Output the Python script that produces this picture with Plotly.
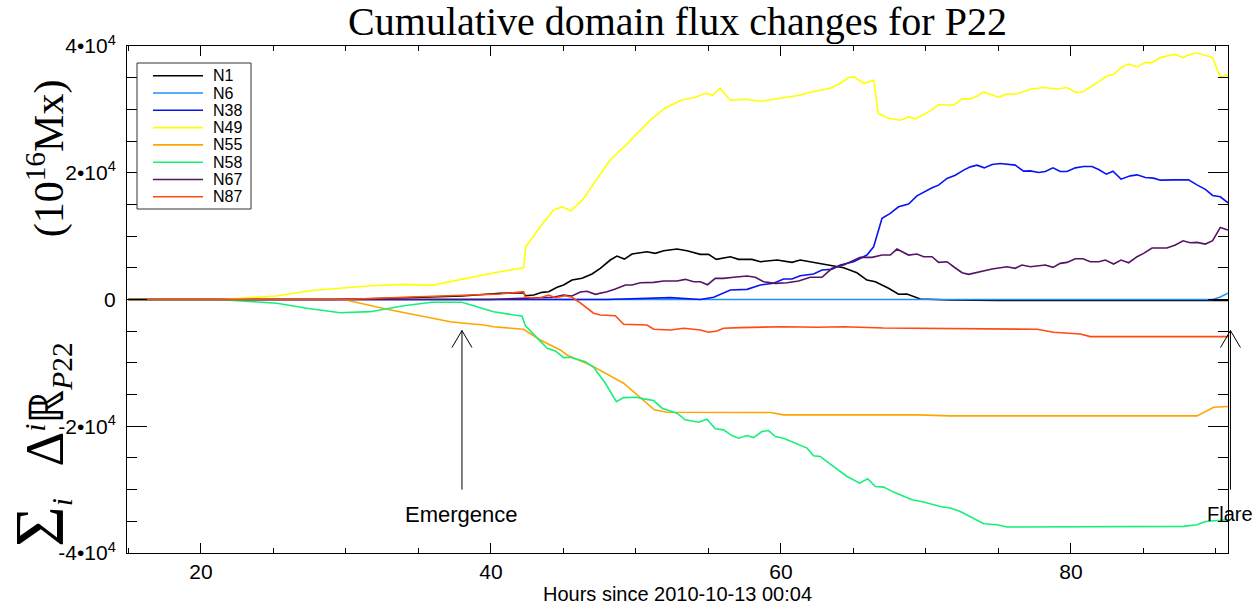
import plotly.graph_objects as go

# ---------------- data (hours since 2010-10-13 00:04, flux in 1e16 Mx) ----------------
N1_h = [15, 29, 33, 36, 38, 40.65, 42.25, 42.37, 42.95, 43.52, 43.98, 44.56, 45.01, 45.59, 46.28, 46.97,
        47.54, 48.23, 48.69, 49.2, 49.73, 50.76, 51.33, 51.91, 52.83, 53.52, 54.44, 55.01, 55.54, 56.51,
        57.08, 58.0, 58.58, 59.73, 60.76, 61.33, 62.49, 63.4, 64.32, 65.24, 65.93, 66.51, 67.42, 68.11,
        68.69, 69.61, 71.68, 75, 80, 85, 90.83]
N1_v = [0, 0, 200, 350, 550, 980, 1070, 600, 710, 1130, 1230, 1920, 2290, 3070, 3340, 4020,
        4920, 6230, 6860, 6380, 7170, 7530, 7280, 7690, 7960, 7690, 7120, 7120, 6330, 6750,
        6330, 6330, 5960, 6230, 5860, 6230, 5800, 5440, 5010, 4220, 3070, 2810, 1770, 820,
        870, 80, -80, -150, -150, -150, -150]

N6_h = [15, 89.77, 90.3, 90.83]
N6_v = [0, 0, 400, 1000]

N38_h = [15, 48, 52.37, 53.5, 54.44, 55.36, 56.51, 57.66, 58.58, 59.49, 60.18, 60.76, 61.33, 62.25,
         62.83, 63.52, 64.09, 65.01, 65.93, 66.39, 66.97, 67.54, 68.11, 68.8, 69.38, 70.42, 70.87,
         71.45, 72.02, 72.6, 73.06, 73.52, 74.02, 74.56, 75.13, 76.16, 76.73, 77.2, 77.77, 78.23,
         78.76, 79.26, 79.73, 80.3, 80.87, 81.45, 81.91, 82.44, 82.9, 83.45, 84.1, 84.56, 85.13,
         85.7, 86.16, 87.08, 88.11, 88.69, 89.27, 89.77, 90.3, 90.83]
N38_v = [0, 0, 300, 100, 0, 350, 1500, 1600, 2290, 2550, 3230, 3230, 3750, 4020,
         4650, 4760, 5440, 5960, 7010, 8320, 12800, 13580, 14630, 15050, 16360, 17620, 18040,
         19100, 19620, 20410, 20930, 21200, 20770, 21310, 21460, 21200, 20250, 20300, 20050, 20200,
         20770, 20200, 20200, 20770, 20990, 20990, 20520, 19780, 20250, 18990, 19510, 19670, 19260,
         19150, 18830, 18880, 18880, 18090, 17370, 16420, 16200, 15260]

N49_h = [15, 21.3, 25.2, 27.5, 31.7, 34.0, 35.9, 40.6, 42.25, 42.4, 43.4, 44.3, 44.9, 45.5, 46.3,
         47.5, 48.2, 49.3, 50.3, 51.0, 52.0, 53.1, 54.1, 54.8, 55.3, 55.8, 56.5, 57.5, 58.6, 59.6,
         60.6, 61.3, 62.0, 62.7, 63.4, 64.1, 64.7, 65.1, 65.7, 66.4, 66.7, 67.4, 68.23, 68.8, 69.27,
         70.3, 70.87, 71.91, 72.49, 73.06, 73.52, 73.98, 74.56, 75.01, 75.59, 76.16, 77.2, 78.11,
         79.04, 79.73, 80.3, 80.76, 81.8, 82.49, 82.94, 83.52, 83.98, 84.56, 85.13, 85.59, 86.16,
         86.62, 87.13, 87.73, 88.23, 88.69, 89.27, 89.77, 90.3, 90.83]
N49_v = [0, 0, 550, 1390, 2180, 2390, 2230, 4380, 5010, 8320, 11470, 14100, 14630, 14000, 15680,
         19600, 21980, 24350, 26710, 28290, 30180, 31440, 31910, 32540, 32230, 33330, 31440, 31600,
         31280, 31600, 31910, 32230, 32700, 33020, 33330, 34120, 35070, 35070, 34120, 34590, 29390,
         28600, 28290, 28810, 28500, 29760, 30760, 30650, 31650, 31650, 32070, 32750, 32340, 31910,
         32430, 32390, 33180, 33440, 33220, 33440, 32700, 32700, 34170, 35270, 35490, 36690, 37160,
         36690, 37380, 37380, 38170, 38380, 38690, 38170, 38690, 38900, 38530, 38170, 35110, 35490]

N55_h = [15, 29.84, 32.83, 37.2, 38.0, 39.5, 40.18, 42.25, 43.4, 44.78, 45.24, 46.85, 49.15, 50.07,
         51.27, 52.14, 59.27, 60.18, 69.38, 71.68, 88.69, 89.84, 90.83]
N55_v = [0, 0, -1540, -3500, -3700, -4020, -4290, -4700, -6380, -7960, -8750, -10320, -13210, -15050,
         -17410, -17780, -17840, -18200, -18200, -18360, -18360, -16990, -16890]

N58_h = [15, 21.3, 25.24, 27.3, 29.6, 31.68, 33.98, 35.93, 38.0, 39.73, 40.18, 42.14, 42.37, 43.87,
         44.44, 45.01, 45.47, 46.51, 47.08, 47.89, 48.65, 49.15, 50.07, 50.53, 51.22, 51.8, 52.83,
         53.4, 54.32, 54.9, 55.47, 56.04, 56.62, 57.08, 57.66, 58.11, 58.69, 59.15, 59.61, 60.18,
         61.33, 61.8, 62.25, 62.71, 63.4, 63.87, 64.56, 65.43, 65.98, 66.51, 67.08, 67.77, 69.04,
         69.84, 70.99, 71.68, 72.37, 73.98, 74.9, 75.59, 85.24, 87.77, 88.69, 89.27, 90.83]
N58_v = [0, 0, -600, -1390, -2080, -1920, -980, -440, -440, -1650, -1920, -2650, -4100, -7690,
         -8120, -9170, -9110, -9800, -10690, -13210, -16110, -15480, -15420, -15680, -15950, -17150,
         -17930, -18990, -19360, -18880, -20410, -20570, -21470, -21880, -21470, -21780, -20830,
         -20680, -21620, -21880, -23040, -23450, -24660, -24770, -25970, -26760, -27930, -28970,
         -28290, -29500, -29600, -30390, -31600, -31960, -32650, -32910, -33440, -35380, -35540,
         -35900, -35900, -35800, -35540, -35020, -34750]

N67_h = [15, 40, 44.3, 45.0, 45.59, 46.16, 46.62, 47.2, 48.0, 48.58, 49.27, 49.73, 50.3, 51.22, 51.91,
         52.83, 53.4, 53.98, 54.44, 54.94, 55.47, 56.04, 56.73, 57.66, 58.23, 58.8, 59.61, 60.42,
         61.22, 62.02, 62.83, 63.52, 64.32, 65.47, 66.28, 66.97, 67.54, 68.0, 68.8, 69.38, 69.84,
         70.42, 70.87, 71.45, 71.91, 72.49, 72.94, 73.98, 74.56, 75.59, 76.16, 76.62, 77.2, 78.23,
         78.76, 79.26, 79.73, 80.3, 80.83, 81.33, 81.91, 82.37, 82.94, 83.45, 83.98, 84.56, 85.01,
         85.59, 86.62, 87.2, 87.73, 88.23, 88.69, 89.27, 89.77, 90.3, 90.83]
N67_v = [0, 0, 350, 710, 550, 1180, 1290, 820, 1230, 1650, 2290, 2290, 2650, 2710, 2920,
         2920, 3180, 2810, 2810, 2330, 3340, 3340, 3500, 3700, 3500, 2810, 2550, 2650,
         2920, 3500, 3500, 4920, 5440, 6650, 6650, 7010, 7010, 7960, 7010, 7170, 6750,
         6750, 5860, 5960, 5170, 4220, 3970, 4490, 4810, 5170, 4920, 5440, 5170, 5440,
         5070, 5700, 5860, 6430, 6430, 5960, 5960, 6230, 5600, 6230, 5800, 6750, 7280,
         8120, 8120, 8590, 9270, 8950, 9010, 8750, 9270, 11380, 10950]

N87_h = [15, 29.8, 34.0, 37.2, 40.65, 42.25, 42.37, 43.29, 43.98, 44.44, 45.13, 45.59, 46.05, 47.08,
         47.54, 48.58, 49.15, 50.76, 51.22, 52.37, 53.29, 54.44, 55.01, 55.59, 56.04, 57.2, 60.18,
         62.49, 64.32, 67.08, 71.68, 77.66, 78.8, 80.64, 81.33, 90.83]
N87_v = [0, 0, 350, 600, 870, 1230, 350, 190, 710, 280, 600, 350, -350, -2170,
         -2440, -2550, -3900, -4020, -4700, -4810, -4540, -4810, -5170, -4960, -4540, -4440, -4290,
         -4370, -4290, -4490, -4620, -4700, -5170, -5440, -5860, -5860]

series_names = ["N1", "N6", "N38", "N49", "N55", "N58", "N67", "N87"]
series_hours = [N1_h, N6_h, N38_h, N49_h, N55_h, N58_h, N67_h, N87_h]
series_vals = [N1_v, N6_v, N38_v, N49_v, N55_v, N58_v, N67_v, N87_v]
series_colors = ["#000000", "#2090ff", "#0a14f0", "#ffff00", "#ffa500", "#14f07a", "#561466", "#ff4a12"]

x_ticks = [20, 40, 60, 80]
y_ticks = [-40000, -20000, 0, 20000, 40000]
y_ticktext = ["-4•10<sup>4</sup>", "-2•10<sup>4</sup>", "0", "2•10<sup>4</sup>", "4•10<sup>4</sup>"]

event_names = ["Emergence", "Flare"]
event_hours = [38.0, 91.0]

# ---------------- layout geometry ----------------
W, H = 1260, 611
ML, MR, MT, MB = 127, 32, 46, 58
XR = [14.9, 90.83]
YR = [-40000, 40000]
PW, PH = W - ML - MR, H - MT - MB

def xp(h):
    return (h - XR[0]) / (XR[1] - XR[0])

def yp(v):
    return (v - YR[0]) / (YR[1] - YR[0])

def px2x(px):
    return (px - ML) / PW

def py2y(py):
    return (H - MB - py) / PH

SANS = "Liberation Sans, Arial, sans-serif"
SERIF = "Liberation Serif, Times New Roman, serif"

fig = go.Figure()
for name, hh, vv, col in zip(series_names, series_hours, series_vals, series_colors):
    fig.add_trace(go.Scatter(x=hh, y=vv, mode="lines", name=name,
                             line=dict(color=col, width=1.6), showlegend=False))

shapes = []
annotations = []

# manual legend (IDL-style compact box)
lg_left, lg_top, lg_right, lg_bottom = 137, 63, 251, 209
shapes.append(dict(type="rect", xref="paper", yref="paper",
                   x0=px2x(lg_left), x1=px2x(lg_right), y0=py2y(lg_bottom), y1=py2y(lg_top),
                   line=dict(color="#333333", width=1), fillcolor="white", layer="above"))
for i, (name, col) in enumerate(zip(series_names, series_colors)):
    row_y = 75.7 + 17.3 * i
    shapes.append(dict(type="line", xref="paper", yref="paper",
                       x0=px2x(153), x1=px2x(203), y0=py2y(row_y), y1=py2y(row_y),
                       line=dict(color=col, width=1.6), layer="above"))
    annotations.append(dict(xref="paper", yref="paper", x=px2x(211), y=py2y(row_y),
                            text=name, showarrow=False, xanchor="left", yanchor="middle",
                            font=dict(family=SANS, size=16, color="black")))

# event arrows
for name, h in zip(event_names, event_hours):
    x = xp(h)
    y_tail = yp(-30000)
    y_tip = yp(-4900)
    dx = 10 / PW
    dy = 17 / PH
    shapes.append(dict(type="line", xref="paper", yref="paper", x0=x, x1=x, y0=y_tail, y1=y_tip,
                       line=dict(color="black", width=1)))
    shapes.append(dict(type="line", xref="paper", yref="paper", x0=x - dx, x1=x, y0=y_tip - dy, y1=y_tip,
                       line=dict(color="black", width=1)))
    shapes.append(dict(type="line", xref="paper", yref="paper", x0=x + dx, x1=x, y0=y_tip - dy, y1=y_tip,
                       line=dict(color="black", width=1)))
    if name == "Flare":
        annotations.append(dict(xref="paper", yref="paper", x=px2x(1205), y=py2y(514), text=name,
                                showarrow=False, xanchor="left", yanchor="middle",
                                font=dict(family=SANS, size=20, color="black")))
    else:
        annotations.append(dict(xref="paper", yref="paper", x=x, y=py2y(514), text=name,
                                showarrow=False, xanchor="center", yanchor="middle",
                                font=dict(family=SANS, size=22, color="black")))

# y-axis title as a rotated annotation (placed freely left of the tick labels)
NB = "\u00a0"
ytitle = ('<span style="font-size:70px">Σ</span><sub><i>i</i></sub>' + NB * 3 +
          '<span style="font-size:54px">Δ</span><sup><i>i</i></sup>'
          '<span style="font-size:48px">ℝ</span><sub><i>P</i>22</sub>' + NB * 10 +
          '(10<sup>16</sup>Mx)')
annotations.append(dict(xref="paper", yref="paper", x=px2x(39), y=py2y(314), text=ytitle,
                        textangle=-90, showarrow=False, xanchor="center", yanchor="middle",
                        font=dict(family=SERIF, size=42, color="black")))

fig.update_layout(
    width=W, height=H,
    margin=dict(l=ML, r=MR, t=MT, b=MB, autoexpand=False),
    paper_bgcolor="white", plot_bgcolor="white",
    title=dict(text="Cumulative domain flux changes for P22", x=0.5, xref="paper", xanchor="center",
               y=1 - 21 / H, yref="container", yanchor="middle",
               font=dict(family=SERIF, size=40, color="black")),
    shapes=shapes, annotations=annotations,
    showlegend=False,
)

fig.update_xaxes(range=XR, tickvals=x_ticks, ticks="inside", ticklen=10, tickwidth=1, tickcolor="black",
                 minor=dict(dtick=5, tick0=0, ticks="inside", ticklen=5, tickcolor="black", tickwidth=1),
                 showline=True, linecolor="black", linewidth=1, mirror="ticks",
                 showgrid=False, zeroline=False,
                 tickfont=dict(family=SANS, size=21, color="black"),
                 title=dict(text="Hours since 2010-10-13 00:04", standoff=0,
                            font=dict(family=SANS, size=20, color="black")))
fig.update_yaxes(range=YR, tickvals=y_ticks, ticktext=y_ticktext, ticks="inside", ticklen=20,
                 tickwidth=1, tickcolor="black", ticklabelstandoff=6,
                 minor=dict(dtick=5000, tick0=0, ticks="inside", ticklen=10, tickcolor="black", tickwidth=1),
                 showline=True, linecolor="black", linewidth=1, mirror="ticks",
                 showgrid=False, zeroline=False,
                 tickfont=dict(family=SANS, size=21, color="black"))

fig.write_html("out.html", config={"displayModeBar": False},
               post_script="document.body.style.margin='0';document.body.style.overflow='hidden';")
